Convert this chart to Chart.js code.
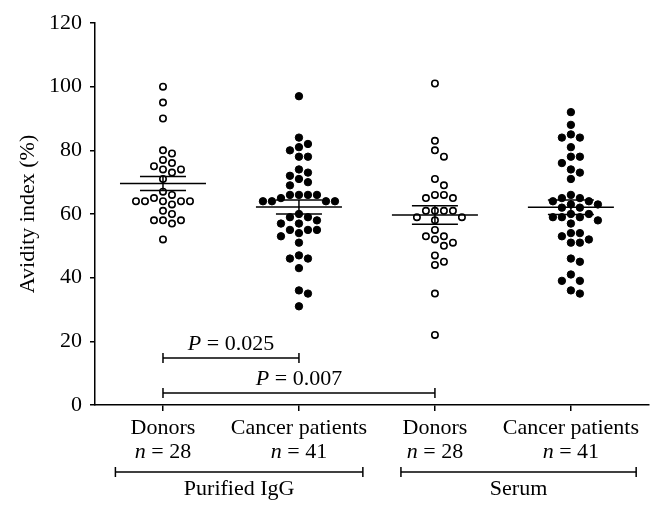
<!DOCTYPE html>
<html>
<head>
<meta charset="utf-8">
<script src="https://cdn.jsdelivr.net/npm/chart.js@4/dist/chart.umd.min.js"></script>
<style>
  html, body { margin: 0; padding: 0; background: #fff; }
</style>
</head>
<body>
<canvas id="chart" width="654" height="512"></canvas>
<script>
// values
var categories = ['Donors', 'Cancer patients', 'Donors', 'Cancer patients'];
var groupNames = ['Purified IgG', 'Serum'];
var yTicks = [0, 20, 40, 60, 80, 100, 120];
var pLabels = ['0.025', '0.007'];

var igGDonors = [100, 95, 90, 80, 79, 77, 76, 75, 74, 74, 73, 71, 67, 66,
    65, 64, 64, 64, 64, 64, 63, 61, 60, 58, 58, 58, 57, 52];
var igGCancer = [97, 84, 82, 81, 80, 78, 78, 74, 73, 72, 71, 70, 69, 66, 66,
    66, 66, 65, 64, 64, 64, 64, 60, 59, 59, 58, 57, 57, 55, 55, 55, 54, 53,
    51, 47, 46, 46, 43, 36, 35, 31];
var serumDonors = [101, 83, 80, 78, 71, 69, 66, 66, 65, 65, 61, 61, 61, 61,
    59, 59, 58, 55, 53, 53, 52, 51, 50, 47, 45, 44, 35, 22];
var serumCancer = [92, 88, 85, 84, 84, 81, 78, 78, 76, 74, 73, 71, 66, 65, 65,
    64, 64, 63, 63, 62, 62, 60, 60, 59, 59, 59, 58, 57, 54, 54, 53, 52, 51,
    51, 46, 45, 41, 39, 39, 36, 35];

var series = [igGDonors, igGCancer, serumDonors, serumCancer];
var filled = [false, true, false, true];

var FONT = '"Liberation Serif", "Times New Roman", serif';
var FSIZE = 22;

function mean(a) {
    return a.reduce(function (s, v) { return s + v; }, 0) / a.length;
}
function sem(a) {
    var m = mean(a);
    var ss = a.reduce(function (s, v) { return s + (v - m) * (v - m); }, 0);
    return Math.sqrt(ss / (a.length - 1)) / Math.sqrt(a.length);
}

// spread dots sideways so they don't overlap (beeswarm)
function swarm(values, center, xs, ys) {
    var step = 9, d = 7.6;
    var cx = xs.getPixelForValue(center);
    var placed = [], pts = [];
    values.slice().sort(function (a, b) { return b - a; }).forEach(function (v) {
        var py = ys.getPixelForValue(v);
        for (var k = 0; k < 30; k++) {
            var off = k === 0 ? 0 : (k % 2 ? 1 : -1) * Math.ceil(k / 2) * step;
            var ok = placed.every(function (p) {
                var dx = p[0] - (cx + off), dy = p[1] - py;
                return dx * dx + dy * dy >= d * d;
            });
            if (ok) {
                placed.push([cx + off, py]);
                pts.push({x: xs.getValueForPixel(cx + off), y: v});
                break;
            }
        }
    });
    return pts;
}

function line(ctx, x1, y1, x2, y2) {
    ctx.beginPath();
    ctx.moveTo(x1, y1);
    ctx.lineTo(x2, y2);
    ctx.stroke();
}

// text with some parts in italic, centred on cx
function mixedText(ctx, parts, cx, y) {
    var w = 0;
    parts.forEach(function (p) {
        ctx.font = (p[1] ? 'italic ' : '') + FSIZE + 'px ' + FONT;
        w += ctx.measureText(p[0]).width;
    });
    var x = cx - w / 2;
    ctx.textAlign = 'left';
    parts.forEach(function (p) {
        ctx.font = (p[1] ? 'italic ' : '') + FSIZE + 'px ' + FONT;
        ctx.fillText(p[0], x, y);
        x += ctx.measureText(p[0]).width;
    });
}

var annotations = {
    id: 'annotations',
    afterDatasetsDraw: function (chart) {
        var ctx = chart.ctx, xs = chart.scales.x, ys = chart.scales.y;
        var bottom = chart.chartArea.bottom;
        ctx.save();
        ctx.strokeStyle = '#000';
        ctx.fillStyle = '#000';
        ctx.lineWidth = 1.5;
        ctx.textBaseline = 'middle';

        // mean +/- SEM
        series.forEach(function (vals, i) {
            var cx = xs.getPixelForValue(i + 1);
            var m = mean(vals), se = sem(vals);
            var ym = ys.getPixelForValue(m);
            var yh = ys.getPixelForValue(m + se), yl = ys.getPixelForValue(m - se);
            line(ctx, cx - 43, ym, cx + 43, ym);
            line(ctx, cx - 23, yh, cx + 23, yh);
            line(ctx, cx - 23, yl, cx + 23, yl);
            line(ctx, cx, yh, cx, yl);
        });

        // significance brackets
        var brackets = [[1, 2, 14.8, pLabels[0]], [1, 3, 3.8, pLabels[1]]];
        brackets.forEach(function (b) {
            var x1 = xs.getPixelForValue(b[0]), x2 = xs.getPixelForValue(b[1]);
            var y = ys.getPixelForValue(b[2]);
            line(ctx, x1, y, x2, y);
            line(ctx, x1, y - 5, x1, y + 5);
            line(ctx, x2, y - 5, x2, y + 5);
            mixedText(ctx, [['P', true], [' = ' + b[3], false]], (x1 + x2) / 2, y - 14);
        });

        // category labels and sample sizes
        categories.forEach(function (c, i) {
            var cx = xs.getPixelForValue(i + 1);
            mixedText(ctx, [[c, false]], cx, bottom + 23);
            mixedText(ctx, [['n', true], [' = ' + series[i].length, false]], cx, bottom + 47);
        });

        // group brackets
        var spans = [[0.65, 2.47], [2.75, 4.48]];
        spans.forEach(function (s, i) {
            var x1 = xs.getPixelForValue(s[0]), x2 = xs.getPixelForValue(s[1]);
            var y = bottom + 67;
            line(ctx, x1, y, x2, y);
            line(ctx, x1, y - 5, x1, y + 5);
            line(ctx, x2, y - 5, x2, y + 5);
            mixedText(ctx, [[groupNames[i], false]], (x1 + x2) / 2, bottom + 84);
        });
        ctx.restore();
    }
};

var datasets = series.map(function (vals, i) {
    return {
        data: vals.map(function (v) { return {x: i + 1, y: v}; }),
        pointRadius: filled[i] ? 3.7 : 3.2,
        pointBorderWidth: filled[i] ? 1 : 1.6,
        pointBackgroundColor: filled[i] ? '#000' : '#fff',
        pointBorderColor: '#000',
        showLine: false
    };
});

var chart = new Chart(document.getElementById('chart').getContext('2d'), {
    type: 'scatter',
    data: {datasets: datasets},
    plugins: [annotations],
    options: {
        responsive: false,
        animation: false,
        layout: {padding: {top: 23, left: 0, right: 0, bottom: 0}},
        plugins: {legend: {display: false}, tooltip: {enabled: false}},
        scales: {
            x: {
                type: 'linear',
                min: 0.5,
                max: 4.57,
                afterBuildTicks: function (scale) {
                    scale.ticks = categories.map(function (c, i) { return {value: i + 1}; });
                },
                afterFit: function (scale) { scale.height = 107; },
                ticks: {display: false},
                grid: {drawOnChartArea: false, drawTicks: true, tickLength: 6, color: '#000', lineWidth: 1.5},
                border: {display: true, color: '#000', width: 1.5}
            },
            y: {
                min: 0,
                max: 120,
                afterBuildTicks: function (scale) {
                    scale.ticks = yTicks.map(function (v) { return {value: v}; });
                },
                afterFit: function (scale) { scale.width = 95; },
                ticks: {color: '#000', padding: 8, font: {family: FONT, size: FSIZE}},
                grid: {drawOnChartArea: false, drawTicks: true, tickLength: 5, color: '#000', lineWidth: 1.5},
                border: {display: true, color: '#000', width: 1.5},
                title: {
                    display: true,
                    text: 'Avidity index (%)',
                    color: '#000',
                    font: {family: FONT, size: FSIZE},
                    padding: {top: 15, bottom: 0}
                }
            }
        }
    }
});

// lay the dots out as a swarm now that the scales are known
chart.data.datasets.forEach(function (ds, i) {
    ds.data = swarm(series[i], i + 1, chart.scales.x, chart.scales.y);
});
chart.update('none');
</script>
</body>
</html>
